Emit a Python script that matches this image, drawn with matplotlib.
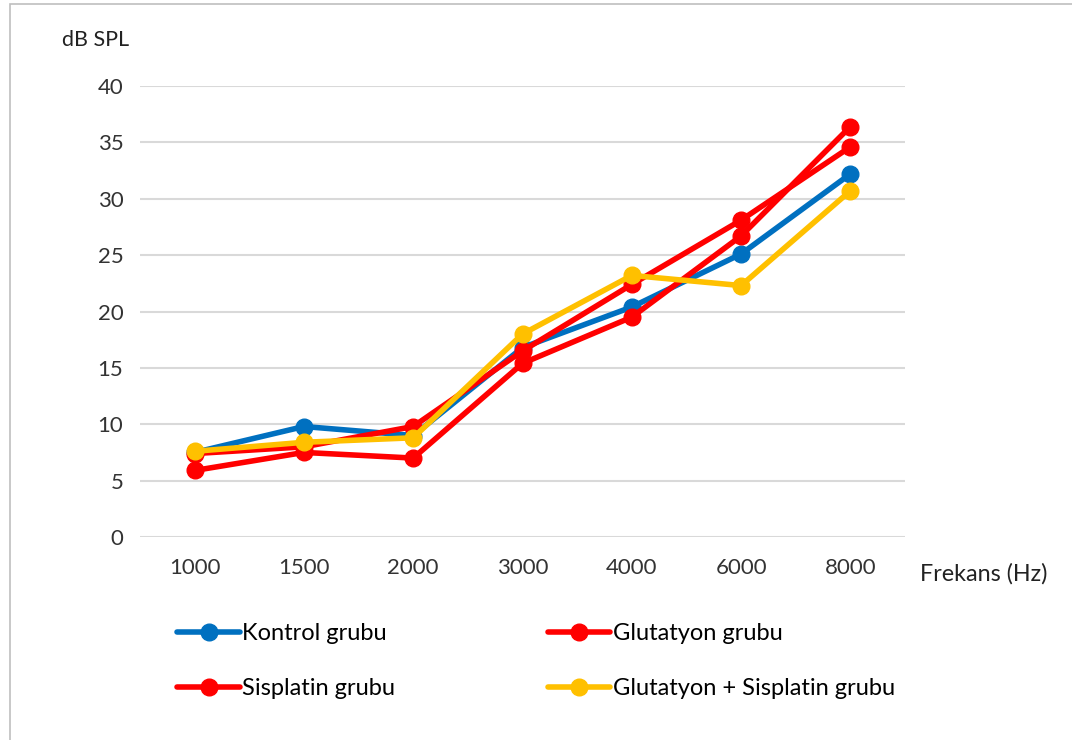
"""Hearing thresholds (dB SPL) per frequency for the four study groups."""

import matplotlib.pyplot as plt
from matplotlib.patches import Rectangle

plt.rcParams["font.family"] = ["Lato", "DejaVu Sans"]

frequencies = ["1000", "1500", "2000", "3000", "4000", "6000", "8000"]

kontrol = [7.5, 9.8, 9.0, 16.8, 20.4, 25.1, 32.2]
glutatyon = [7.4, 8.0, 9.8, 16.5, 22.4, 28.1, 34.6]
sisplatin = [5.9, 7.5, 7.0, 15.4, 19.5, 26.7, 36.4]
glut_sisp = [7.6, 8.4, 8.8, 18.0, 23.2, 22.3, 30.7]

series = [
    ("Kontrol grubu", kontrol, "#0070C0"),
    ("Glutatyon grubu", glutatyon, "#FF0000"),
    ("Sisplatin grubu", sisplatin, "#FF0000"),
    ("Glutatyon + Sisplatin grubu", glut_sisp, "#FFC000"),
]

fig = plt.figure(figsize=(10.72, 7.4), dpi=100)
ax = fig.add_axes([140 / 1072, 1 - 537 / 740, 765 / 1072, 451 / 740])

x = list(range(len(frequencies)))
handles = []
for label, values, color in series:
    (line,) = ax.plot(x, values, color=color, linewidth=4.0, marker="o",
                      markersize=12, label=label, solid_capstyle="round")
    handles.append(line)

ax.set_xlim(-0.5, len(frequencies) - 0.5)
ax.set_ylim(0, 40)
ax.set_yticks(range(0, 41, 5))
ax.set_xticks(x, frequencies)
ax.grid(axis="y", color="#D9D9D9", linewidth=1.5)
ax.set_axisbelow(True)
for side in ["top", "right", "left", "bottom"]:
    ax.spines[side].set_visible(False)
ax.tick_params(length=0, labelsize=16, colors="#333333", pad=12)
ax.tick_params(axis="x", pad=15)

fig.text(62 / 1072, 1 - 40 / 740, "dB SPL", fontsize=15.5, color="#222222",
         va="center", ha="left")
fig.text(920 / 1072, 1 - 574 / 740, "Frekans (Hz)", fontsize=16.8,
         color="#222222", va="center", ha="left")

order = [0, 2, 1, 3]
fig.legend([handles[i] for i in order], [series[i][0] for i in order],
           ncol=2, loc="upper left", bbox_to_anchor=(168 / 1072, 1 - 614 / 740),
           frameon=False, fontsize=17, handlelength=2.65, handletextpad=0.1,
           columnspacing=6.45, labelspacing=1.42, borderaxespad=0)

# outer frame of the chart area
fig.patches.append(Rectangle((10 / 1072, -0.05), 1.1, 1 - 4 / 740 + 0.05,
                             transform=fig.transFigure, fill=False,
                             edgecolor="#BFBFBF", linewidth=1.2))

fig.savefig("out.png", dpi=100)
